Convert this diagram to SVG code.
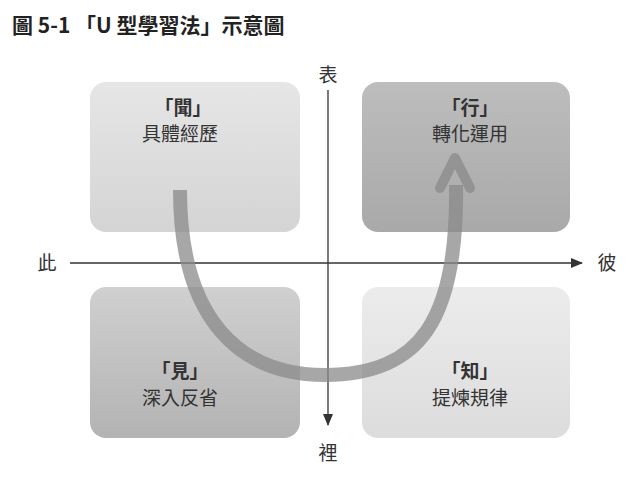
<svg xmlns="http://www.w3.org/2000/svg" width="639" height="480" viewBox="0 0 639 480">
<style>
text{font-family:"Noto Sans CJK TC","Noto Sans CJK SC",sans-serif;fill:#333}
.h{font-size:19px;font-weight:bold;text-anchor:middle}
.s{font-size:19px;text-anchor:middle}
.ax{font-size:19px;text-anchor:middle}
</style>
<defs>
<linearGradient id="g1" x1="0" y1="0" x2="0" y2="1"><stop offset="0" stop-color="#e6e6e6"/><stop offset="1" stop-color="#d4d4d4"/></linearGradient>
<linearGradient id="g2" x1="0" y1="0" x2="0" y2="1"><stop offset="0" stop-color="#bdbdbd"/><stop offset="1" stop-color="#a9a9a9"/></linearGradient>
<linearGradient id="g3" x1="0" y1="0" x2="0" y2="1"><stop offset="0" stop-color="#d0d0d0"/><stop offset="1" stop-color="#b3b3b3"/></linearGradient>
<linearGradient id="g4" x1="0" y1="0" x2="0" y2="1"><stop offset="0" stop-color="#ececec"/><stop offset="1" stop-color="#dcdcdc"/></linearGradient>
<marker id="ar" markerWidth="12" markerHeight="10" refX="11" refY="5" orient="auto" markerUnits="userSpaceOnUse"><path d="M0,0 L12,5 L0,10 Z" fill="#333"/></marker>
</defs>
<text x="12" y="33" style="font-size:21px;font-weight:bold;fill:#222">圖 5-1 「U 型學習法」示意圖</text>
<g id="n1"><rect x="90" y="82" width="210" height="150" rx="16" fill="url(#g1)"/><text class="h" x="183" y="115">「聞」</text><text class="s" x="180" y="141">具體經歷</text></g>
<g id="n2"><rect x="362" y="82" width="208" height="150" rx="16" fill="url(#g2)"/><text class="h" x="470" y="115">「行」</text><text class="s" x="470" y="141">轉化運用</text></g>
<g id="n3"><rect x="90" y="287" width="210" height="151" rx="16" fill="url(#g3)"/><text class="h" x="180" y="378">「見」</text><text class="s" x="180" y="405">深入反省</text></g>
<g id="n4"><rect x="362" y="287" width="208" height="151" rx="16" fill="url(#g4)"/><text class="h" x="470" y="378">「知」</text><text class="s" x="470" y="405">提煉規律</text></g>
<g id="connectors">
<line x1="70" y1="263" x2="582" y2="263" stroke="#333" stroke-width="1.3" marker-end="url(#ar)"/>
<line x1="328" y1="90" x2="328" y2="425" stroke="#333" stroke-width="1.3" marker-end="url(#ar)"/>
<path d="M180,190 C180,320 240,375 325,375 C420,375 458,320 456,185" fill="none" stroke="#8a8a8a" stroke-width="14" stroke-opacity="0.75"/>
<path d="M440,188 L455,158 L470,188" fill="none" stroke="#8a8a8a" stroke-width="10" stroke-opacity="0.75" stroke-linejoin="round" stroke-linecap="round"/>
</g>
<text class="ax" x="328" y="82">表</text>
<text class="ax" x="328" y="460">裡</text>
<text class="ax" x="47" y="270">此</text>
<text class="ax" x="607" y="270">彼</text>
</svg>
